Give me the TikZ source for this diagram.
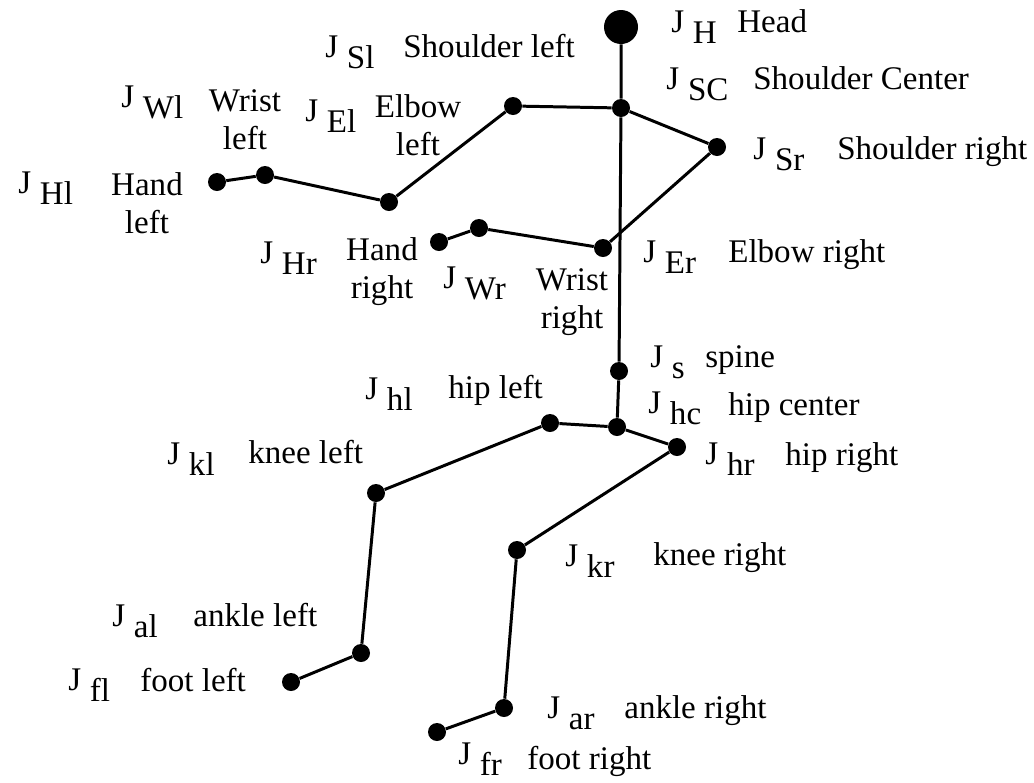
\documentclass[tikz,border=0pt]{standalone}
\usepackage{fontspec}
\setmainfont{Liberation Serif}
\usepackage{tikz}

\newcommand{\jsub}[1]{J\hspace{5pt}\raisebox{-6.8pt}{#1}}

\begin{document}
\begin{tikzpicture}[x=0.02cm,y=-0.02cm,
    joint/.style={circle,fill,inner sep=0pt,minimum size=0.36cm},
    head/.style={circle,fill,inner sep=0pt,minimum size=0.68cm},
    bone/.style={line width=1.7pt},
    lbl/.style={inner sep=0pt,anchor=base west,font=\fontsize{18.8}{21.6}\selectfont},
    twoline/.style={inner sep=0pt,align=center,font=\fontsize{18.8}{21.6}\selectfont}]
  \useasboundingbox (0,0) rectangle (1034,782);

  \node[head] (H) at (621,27) {};
  \node[joint] (SC) at (621,108) {};
  \node[joint] (Sl) at (513,106) {};
  \node[joint] (El) at (389,202) {};
  \node[joint] (Wl) at (265,175) {};
  \node[joint] (Hl) at (217,182) {};
  \node[joint] (Sr) at (717,147) {};
  \node[joint] (Er) at (603,248) {};
  \node[joint] (Wr) at (479,228) {};
  \node[joint] (Hr) at (439,242) {};
  \node[joint] (S) at (619,371) {};
  \node[joint] (HC) at (617,427) {};
  \node[joint] (HL) at (550,423) {};
  \node[joint] (KL) at (376,493) {};
  \node[joint] (AL) at (361,653) {};
  \node[joint] (FL) at (291,682) {};
  \node[joint] (HR) at (677,447) {};
  \node[joint] (KR) at (517,550) {};
  \node[joint] (AR) at (504,708) {};
  \node[joint] (FR) at (437,732) {};

  \draw[bone] (H) -- (SC) -- (S) -- (HC);
  \draw[bone] (SC) -- (Sl) -- (El) -- (Wl) -- (Hl);
  \draw[bone] (SC) -- (Sr) -- (Er) -- (Wr) -- (Hr);
  \draw[bone] (HC) -- (HL) -- (KL) -- (AL) -- (FL);
  \draw[bone] (HC) -- (HR) -- (KR) -- (AR) -- (FR);

  \node[lbl] (jH) at (671,32) {\jsub{H}};
  \node[lbl] (tH) at (737,32) {Head};
  \node[lbl] (jSC) at (666,89) {\jsub{SC}};
  \node[lbl] (tSC) at (753,89) {Shoulder Center};
  \node[lbl] (jSl) at (325,57) {\jsub{Sl}};
  \node[lbl] (tSl) at (403,57) {Shoulder left};
  \node[lbl] (jSr) at (753,159) {\jsub{Sr}};
  \node[lbl] (tSr) at (837,159) {Shoulder right};
  \node[lbl] (jWl) at (121,107) {\jsub{Wl}};
  \node[twoline] (tWl) at (245,120) {Wrist\\left};
  \node[lbl] (jEl) at (305,121) {\jsub{El}};
  \node[twoline] (tEl) at (418,125) {Elbow\\left};
  \node[lbl] (jHl) at (18,193) {\jsub{Hl}};
  \node[twoline] (tHl) at (147,203) {Hand\\left};
  \node[lbl] (jHr) at (260,263) {\jsub{Hr}};
  \node[twoline] (tHr) at (382,272) {Hand\\right};
  \node[lbl] (jWr) at (443,288) {\jsub{Wr}};
  \node[twoline] (tWr) at (572,302) {Wrist\\right};
  \node[lbl] (jEr) at (643,262) {\jsub{Er}};
  \node[lbl] (tEr) at (728,262) {Elbow right};
  \node[lbl] (jS) at (650,367) {\jsub{s}};
  \node[lbl] (tS) at (705,367) {spine};
  \node[lbl] (jHL) at (365,399) {\jsub{hl}};
  \node[lbl] (tHL) at (448,398) {hip left};
  \node[lbl] (jHC) at (648,413) {\jsub{hc}};
  \node[lbl] (tHC) at (728,415) {hip center};
  \node[lbl] (jHR) at (705,464) {\jsub{hr}};
  \node[lbl] (tHR) at (785,465) {hip right};
  \node[lbl] (jKL) at (167,464) {\jsub{kl}};
  \node[lbl] (tKL) at (248,463) {knee left};
  \node[lbl] (jKR) at (565,566) {\jsub{kr}};
  \node[lbl] (tKR) at (653,565) {knee right};
  \node[lbl] (jAL) at (112,626) {\jsub{al}};
  \node[lbl] (tAL) at (193,626) {ankle left};
  \node[lbl] (jAR) at (547,718) {\jsub{ar}};
  \node[lbl] (tAR) at (624,718) {ankle right};
  \node[lbl] (jFL) at (68,690) {\jsub{fl}};
  \node[lbl] (tFL) at (140,691) {foot left};
  \node[lbl] (jFR) at (458,764) {\jsub{fr}};
  \node[lbl] (tFR) at (527,769) {foot right};
\end{tikzpicture}
\end{document}
